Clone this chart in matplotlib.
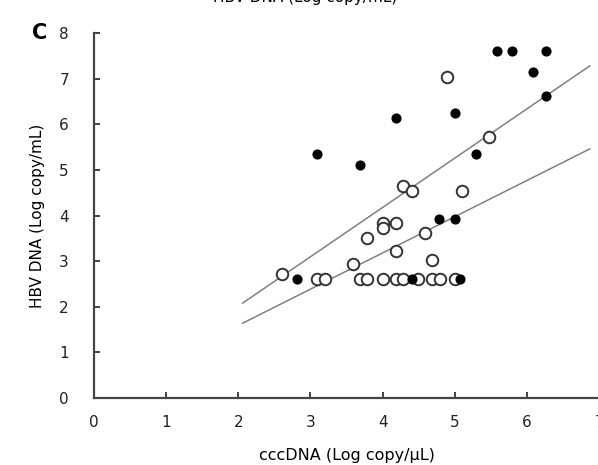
import numpy as np
import matplotlib.pyplot as plt

# closed symbols
ccc_closed = [3.09, 3.68, 4.18, 5.00, 5.29, 5.58, 5.79, 6.27, 6.08, 6.27,
              2.81, 4.78, 5.00, 4.40, 5.07]
hbv_closed = [5.35, 5.11, 6.14, 6.25, 5.35, 7.61, 7.61, 7.61, 7.15, 6.62,
              2.61, 3.93, 3.93, 2.61, 2.61]

# open symbols
ccc_open = [4.89, 5.48, 4.28, 4.40, 5.10, 2.60, 3.09, 3.20, 3.59, 3.78,
            4.00, 4.00, 4.18, 4.18, 4.58, 4.68,
            3.68, 3.79, 4.00, 4.18, 4.28, 4.49, 4.68, 4.79, 5.00]
hbv_open = [7.04, 5.72, 4.65, 4.54, 4.54, 2.72, 2.61, 2.61, 2.94, 3.51,
            3.84, 3.73, 3.84, 3.22, 3.62, 3.03,
            2.61, 2.61, 2.61, 2.61, 2.61, 2.61, 2.61, 2.61, 2.61]

# regression lines (start, end)
line_x = [2.06, 6.87]
upper_y = [2.08, 7.28]
lower_y = [1.64, 5.46]

fig = plt.figure(figsize=(5.98, 4.65), dpi=100)
ax = fig.add_axes([0.157, 0.144, 0.845, 0.785])

ax.plot(line_x, upper_y, color='#808080', lw=1.1, zorder=1)
ax.plot(line_x, lower_y, color='#808080', lw=1.1, zorder=1)

ax.plot(ccc_open, hbv_open, 'o', ms=8.3, mfc='white', mec='#333333', mew=1.4,
        ls='none', zorder=2)
ax.plot(ccc_closed, hbv_closed, 'o', ms=6.3, mfc='black', mec='black',
        ls='none', zorder=3)

ax.set_xlim(0, 7)
ax.set_ylim(0, 8)
ax.set_xticks(range(0, 8))
ax.set_yticks(range(0, 9))
ax.spines['top'].set_visible(False)
ax.spines['right'].set_visible(False)
for s in ('left', 'bottom'):
    ax.spines[s].set_linewidth(1.6)
    ax.spines[s].set_color('#444444')
ax.tick_params(direction='in', length=4, width=1.2, labelsize=11, colors='#222222')
ax.tick_params(axis='x', pad=12)
ax.tick_params(axis='y', pad=18)

ax.set_xlabel('cccDNA (Log copy/μL)', fontsize=11.5, labelpad=13)
ax.set_ylabel('HBV DNA (Log copy/mL)', fontsize=11, labelpad=10)

fig.text(0.067, 0.93, 'C', fontsize=15, fontweight='bold', ha='center', va='center')
fig.text(0.51, 1.005, 'HBV DNA (Log copy/mL)', fontsize=11, ha='center', va='center')

fig.savefig('out.png', dpi=100)
